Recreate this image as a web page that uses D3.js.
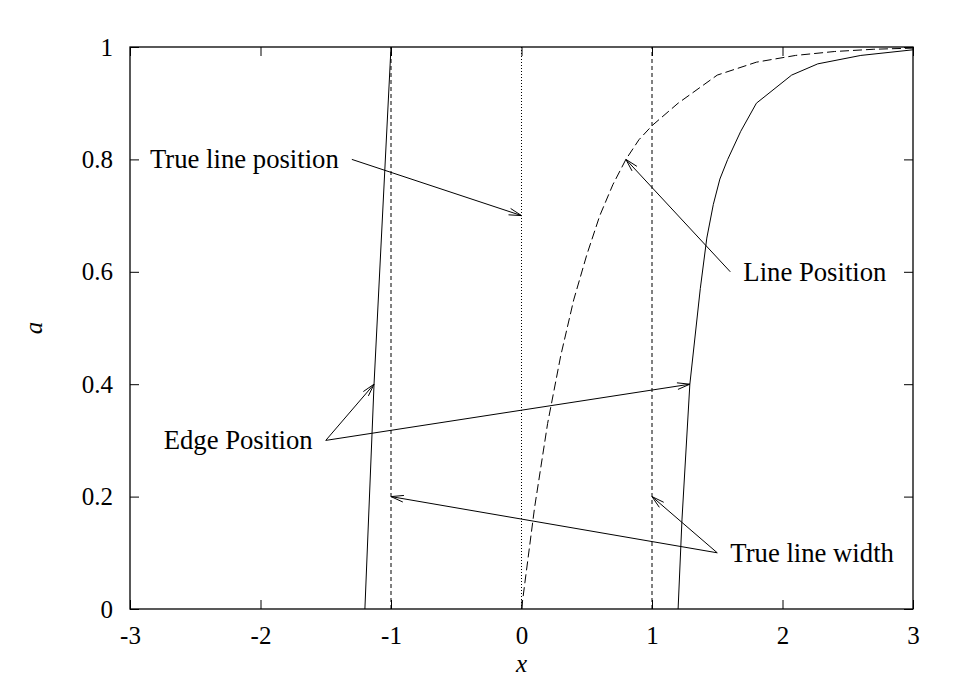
<!DOCTYPE html>
<html>
<head>
<meta charset="utf-8">
<script src="https://cdn.jsdelivr.net/npm/d3@7"></script>
<style>
  body { margin: 0; background: #fff; }
  text { font-family: "Liberation Serif", "Times New Roman", serif; fill: #000; }
</style>
</head>
<body>
<div id="chart"></div>
<script>
// chart size and margins
var width = 975, height = 683;
var margin = {top: 47, right: 62, bottom: 74, left: 130};

// tick values
var xTicks = [-3, -2, -1, 0, 1, 2, 3];
var yTicks = [0, 0.2, 0.4, 0.6, 0.8, 1];

// "Line Position" curve (dashed)
var linePosX = [0, 0.1, 0.2, 0.3, 0.4, 0.5, 0.6, 0.7, 0.8, 0.9, 1.0, 1.2, 1.5, 1.8, 2.1, 2.4, 2.7, 3.0];
var linePosA = [0, 0.18, 0.33, 0.45, 0.55, 0.63, 0.70, 0.755, 0.80, 0.835, 0.86, 0.90, 0.95, 0.973, 0.985, 0.992, 0.996, 0.998];

// "Edge Position" curves (solid)
var edgeLeftX = [-1.2, -1.13, -1.0];
var edgeLeftA = [0, 0.4, 1.0];
var edgeRightX = [1.2, 1.23, 1.29, 1.37, 1.42, 1.47, 1.52, 1.58, 1.68, 1.8, 2.07, 2.27, 2.6, 3.0];
var edgeRightA = [0, 0.16, 0.40, 0.57, 0.66, 0.72, 0.765, 0.80, 0.85, 0.90, 0.95, 0.97, 0.985, 0.995];

// true line position / width markers
var trueLines = [-1, 0, 1];
var trueLineDash = ["4,3", "1,2", "4,3"];

// annotations: label text, label anchor point, arrow start and arrow tips
var labelText = ["True line position", "Line Position", "Edge Position", "True line width"];
var labelX = [-1.4, 1.7, -1.6, 1.6];
var labelY = [0.8, 0.6, 0.3, 0.1];
var labelAnchor = ["end", "start", "end", "start"];
var arrowFrom = [[-1.3, 0.8], [1.6, 0.6], [-1.5, 0.3], [1.5, 0.1]];
var arrowTo = [[[0, 0.7]], [[0.8, 0.8]], [[-1.13, 0.4], [1.29, 0.4]], [[-1, 0.2], [1, 0.2]]];

var svg = d3.select("#chart").append("svg")
    .attr("width", width)
    .attr("height", height);

var x = d3.scaleLinear().domain([-3, 3]).range([margin.left, width - margin.right]);
var y = d3.scaleLinear().domain([0, 1]).range([height - margin.bottom, margin.top]);

svg.append("clipPath").attr("id", "clip")
  .append("rect")
    .attr("x", x(-3)).attr("y", y(1))
    .attr("width", x(3) - x(-3)).attr("height", y(0) - y(1));

var plot = svg.append("g").attr("clip-path", "url(#clip)");

// vertical reference lines
trueLines.forEach(function(v, i) {
    plot.append("line")
        .attr("x1", x(v)).attr("x2", x(v))
        .attr("y1", y(0)).attr("y2", y(1))
        .attr("stroke", "#000")
        .attr("stroke-width", 1)
        .attr("stroke-dasharray", trueLineDash[i]);
});

var line = d3.line().x(d => x(d[0])).y(d => y(d[1]));

function pairs(xs, as) { return xs.map((v, i) => [v, as[i]]); }

plot.append("path")
    .attr("d", line(pairs(linePosX, linePosA)))
    .attr("fill", "none").attr("stroke", "#000").attr("stroke-width", 1)
    .attr("stroke-dasharray", "9,4");

[pairs(edgeLeftX, edgeLeftA), pairs(edgeRightX, edgeRightA)].forEach(function(pts) {
    plot.append("path")
        .attr("d", line(pts))
        .attr("fill", "none").attr("stroke", "#000").attr("stroke-width", 1);
});

// frame and mirrored inward ticks
svg.append("rect")
    .attr("x", x(-3)).attr("y", y(1))
    .attr("width", x(3) - x(-3)).attr("height", y(0) - y(1))
    .attr("fill", "none").attr("stroke", "#000").attr("stroke-width", 1.3);

var tickLen = 9;
var plain = d => String(d);   // hyphen minus, as in the original
svg.append("g").attr("transform", "translate(0," + y(0) + ")")
    .call(d3.axisBottom(x).tickValues(xTicks).tickSize(-tickLen).tickPadding(17).tickFormat(plain));
svg.append("g").attr("transform", "translate(0," + y(1) + ")")
    .call(d3.axisTop(x).tickValues(xTicks).tickSize(-tickLen).tickFormat(""));
svg.append("g").attr("transform", "translate(" + x(-3) + ",0)")
    .call(d3.axisLeft(y).tickValues(yTicks).tickSize(-tickLen).tickPadding(17).tickFormat(plain));
svg.append("g").attr("transform", "translate(" + x(3) + ",0)")
    .call(d3.axisRight(y).tickValues(yTicks).tickSize(-tickLen).tickFormat(""));

svg.selectAll(".domain").remove();
svg.selectAll(".tick line").attr("stroke", "#000").attr("stroke-width", 1);
svg.selectAll(".tick text")
    .style("font-family", "'Liberation Serif', serif")
    .style("font-size", "25px")
    .attr("fill", "#000");

// axis titles
svg.append("text")
    .attr("x", x(0)).attr("y", 672)
    .attr("text-anchor", "middle")
    .style("font-size", "25px").style("font-style", "italic")
    .text("x");
svg.append("text")
    .attr("transform", "translate(33," + y(0.5) + ") rotate(-90)")
    .attr("text-anchor", "middle").attr("dominant-baseline", "central")
    .style("font-size", "25px").style("font-style", "italic")
    .text("a");

// annotations with open gnuplot-style arrow heads
function arrow(p0, p1) {
    var x0 = x(p0[0]), y0 = y(p0[1]), x1 = x(p1[0]), y1 = y(p1[1]);
    var ang = Math.atan2(y1 - y0, x1 - x0), len = 13, spread = 0.26;
    svg.append("line")
        .attr("x1", x0).attr("y1", y0).attr("x2", x1).attr("y2", y1)
        .attr("stroke", "#000").attr("stroke-width", 1);
    [-spread, spread].forEach(function(s) {
        svg.append("line")
            .attr("x1", x1).attr("y1", y1)
            .attr("x2", x1 - len * Math.cos(ang + s))
            .attr("y2", y1 - len * Math.sin(ang + s))
            .attr("stroke", "#000").attr("stroke-width", 1);
    });
}

labelText.forEach(function(t, i) {
    svg.append("text")
        .attr("x", x(labelX[i])).attr("y", y(labelY[i]))
        .attr("text-anchor", labelAnchor[i])
        .attr("dominant-baseline", "central")
        .style("font-size", "26.7px")
        .text(t);
    arrowTo[i].forEach(function(tip) { arrow(arrowFrom[i], tip); });
});
</script>
</body>
</html>
